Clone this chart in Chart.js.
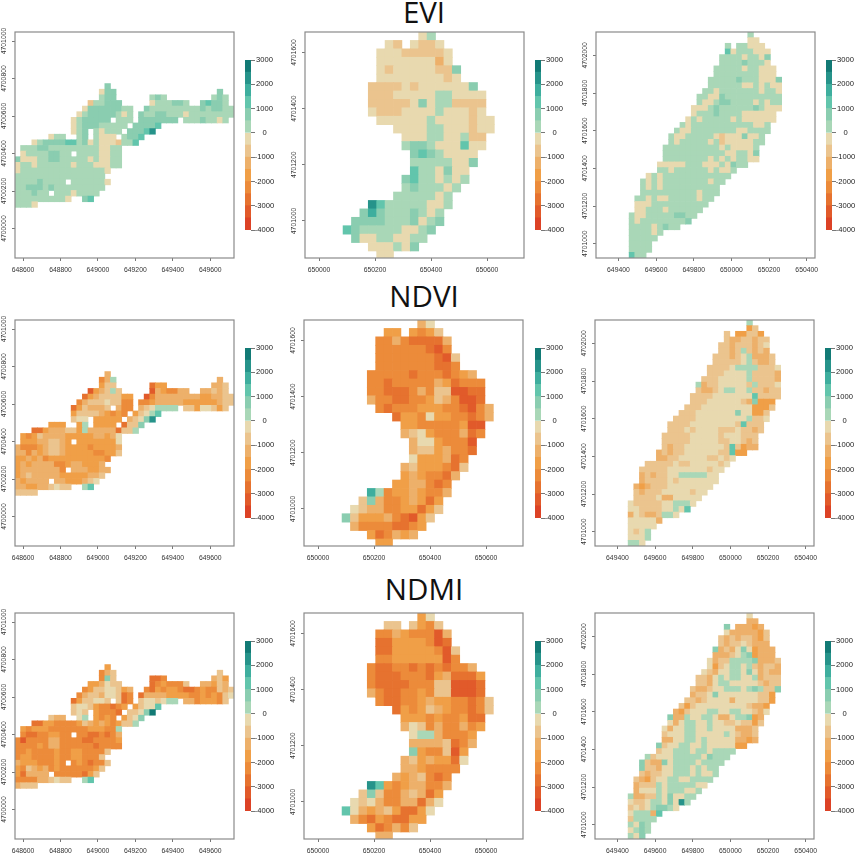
<!DOCTYPE html>
<html>
<head>
<meta charset="utf-8">
<script src="https://cdn.jsdelivr.net/npm/chart.js@4/dist/chart.umd.min.js"></script>
<style>
  html, body { margin: 0; padding: 0; background: #fff; }
  body { position: relative; width: 858px; height: 854px; overflow: hidden; }
  canvas { position: absolute; filter: blur(0.35px); }
  .title { position: absolute; left: 304px; width: 240px; text-align: center; font-family: "Open Sans", sans-serif; font-size: 29.5px; line-height: 30px; color: #111; }
</style>
</head>
<body>
<div class="title" style="top:-3px">EVI</div>
<div class="title" style="top:281px">NDVI</div>
<div class="title" style="top:574px">NDMI</div>
<script>
// colour class of each 30 m cell, one string per raster row, "startColumn:classes"
// class n covers -4000 + 500n .. -3500 + 500n, '.' is no data
const eviWest = [
  '16:9', '15:799 36:9', '15:899 24:898 35:898',
  '13:688999 24:7888998 33:9a998',
  '12:799999988 23:9888888888989988',
  '11:7899999878 22:98899888788888888',
  '10:7899999.888 22:9999999.88898878',
  '10:7899988888 21:9999a',
  '10:789.87888.999ac',
  '6:788 11:89.8777.899a',
  '3:789999aa8978777688a',
  '1:888998888888887788',
  '1:788889988.88887788',
  '0:9777889988888787788',
  '0:7887888888788877788',
  '0:78888888888888887',
  '0:8888888888888888',
  '0:888898888.8888887',
  '0:8899989888888888',
  '0:888988.88878888',
  '0:8888888887 12:9a',
  '0:8887'
];
const ndviWest = [
  '16:5', '15:358 36:5', '15:466 24:244 35:556',
  '13:145686 24:1543355 33:55656',
  '12:245666644 23:1355555555445566',
  '11:3566676633 22:33455555444444566',
  '10:2465556.533 22:5678888.66477646',
  '10:4666654343 21:4678a',
  '10:677.44444.5679c',
  '6:444 11:48.4444.2669',
  '3:2245556648555552668',
  '1:434655554444455457',
  '1:444556654.44444447',
  '0:5333456654444344445',
  '0:5535456654444433446',
  '0:44545344444444443',
  '0:4545555334554445',
  '0:455555553.5554455',
  '0:4565555544444556',
  '0:545555.55444567',
  '0:5544556766 12:8a',
  '0:6666'
];
const ndmiWest = [
  '16:4', '15:356 36:6', '15:396 24:223 35:564',
  '13:445766 24:2343336 33:55465',
  '12:346677645 23:3243443223433656',
  '11:3566577623 22:25555444433434367',
  '10:2466776.623 22:6776788.55344436',
  '10:6776433234 21:4677a',
  '10:676.43332.6679d',
  '6:655 11:78.4343.4679',
  '3:2244333346545434668',
  '1:434443333333444338',
  '1:322334433.33223235',
  '0:3133335533332233334',
  '0:3333435533333323333',
  '0:33433334334433336',
  '0:3443333433443336',
  '0:544433343.3432336',
  '0:4365453433333346',
  '0:425555.33333246',
  '0:3333556766 12:8a',
  '0:5666'
];
const eviMiddle = [
  '9:78', '5:76 8:7667', '4:777666667', '4:777777757', '4:7677777669', '4:7777777767',
  '3:6666767777779', '3:66677777887777', '3:66666797886666', '3:76667777877767',
  '4:77777787777677', '6:777788777677', '7:7778877866', '7:8998777a77', '8:9a987777',
  '8:88888779', '8:a887977', '7:9a887878', '7:8988878', '6:8888878', '3:ca88888778',
  '2:9b98889878', '1:99998889789', '0:a9888887789', '1:977887788', '3:777879', '4:77'
];
const ndviMiddle = [
  '9:57', '5:44 8:4346', '4:335322225', '4:333333213', '4:3333333216', '4:3333333223',
  '3:3333323332345', '3:33233333542333', '3:33222353661122', '3:53322334653112',
  '4:32333444332135', '6:244374433235', '7:4433333411', '7:5674333523', '8:57743331',
  '8:56645332', '8:7444523', '7:56444326', '7:4543325', '6:4455323', '3:b834454335',
  '2:6953345424', '1:76553344246', '0:96444532146', '1:533332234', '3:423545', '4:44'
];
const ndmiMiddle = [
  '9:47', '5:66 8:6436', '4:335433315', '4:224444312', '4:2244444316', '4:3344444413',
  '3:3223323232335', '3:32223332452224', '3:32222333661112', '3:53223343661112',
  '4:32233454433236', '6:243465433236', '7:4443433422', '7:5763533534', '8:78853334',
  '8:55556235', '8:9433614', '7:56454427', '7:5543333', '6:5456323', '3:ca43455335',
  '2:6963356524', '1:76753355257', '0:a7545642247', '1:532432244', '3:423536', '4:55'
];
const eviEast = [
  '21:8', '21:77', '17:8 19:88777', '17:a7888777', '16:888878879', '16:888898887',
  '15:88888788777', '15:88888888777', '14:8888898887779', '14:8888887787877',
  '13:88788888887887', '12:887798888888888', '12:877899888878788',
  '11:7778988888898777', '11:788898888777777', '10:7878888878777777',
  '9:8788888888888778', '8:87788888888778888', '7:87788888767779778',
  '7:87888887867777788', '6:88888888887877778', '6:88888888888778879',
  '6:88888888787878877', '5:7777788877787988', '5:88788888878778',
  '3:787888888888888', '2:878788888888788', '2:87878888888888', '2:88888888887888',
  '1:88787788888788', '1:7778888888888', '1:778887888888', '0:877888889988',
  '0:87888888889', '0:888878988', '0:888878', '0:88888', '0:8888', '0:8888', '0:a88'
];
const ndviEast = [
  '21:8', '21:46', '17:6 19:44664', '17:65566566', '16:665666567', '16:665686565',
  '15:66656785556', '15:66666786556', '14:6666788886667', '14:6667777866665',
  '13:66677777866665', '12:856677777686667', '12:655678877866566',
  '11:66667777777a6666', '11:666777777659444', '10:6667777777774446',
  '9:6667777777977446', '8:66667777777778667', '7:6666777777776a666',
  '7:66676777766676656', '6:66666777776777666', '6:66666777776677656',
  '6:656677777776a6455', '5:5656677777766a44', '5:55667777766767',
  '3:666667667777767', '2:666667777777677', '2:56566778888877', '2:56666767777777',
  '1:54566677777777', '1:6566677777677', '1:666675577777', '0:766666778887',
  '0:7766667787a', '0:576556887', '0:777775', '0:77777', '0:7678', '0:7778', '0:887'
];
const ndmiEast = [
  '21:7', '21:55', '17:9 19:55545', '17:75555546', '16:656566546', '16:656676555',
  '15:95657974555', '15:55567894555', '14:7566888895556', '14:7467887865665',
  '13:76577887975655', '12:665787887785666', '12:665788777776566',
  '11:6556778887898669', '11:566797777777664', '10:6656777757777664',
  '9:6467777777776554', '8:54677788778877657', '7:95587788755788945',
  '7:75788778776676646', '6:75778877877775556', '6:67778877777876556',
  '6:55778878777775545', '5:9677887787777744', '5:67788878878888',
  '3:867778888879888', '2:965597888878888', '2:96657788878788', '2:65667788878778',
  '1:65467788778888', '1:5666878888877', '1:577787888778', '0:855668797788',
  '0:766788797c8', '0:676789987', '0:78885a', '0:68888', '0:8798', '0:7898', '0:879'
];

const cellSize = 30;
const westXTicks = [648600, 648800, 649000, 649200, 649400, 649600];
const westYTicks = [4700000, 4700200, 4700400, 4700600, 4700800, 4701000];
const middleXTicks = [650000, 650200, 650400, 650600];
const middleYTicks = [4701000, 4701200, 4701400, 4701600];
const eastXTicks = [649400, 649600, 649800, 650000, 650200, 650400];
const eastYTicks = [4701000, 4701200, 4701400, 4701600, 4701800, 4702000];
const legendTicks = [3000, 2000, 1000, 0, -1000, -2000, -3000, -4000];
const classFloor = [-4000, -3500, -3000, -2500, -2000, -1500, -1000, -500, 0, 500, 1000, 1500, 2000, 2500];
const palette = ['#dc4226', '#e15a2a', '#e6722f', '#ec8b3a', '#f09f47', '#edb06a', '#ebc48e',
                 '#e8d9af', '#a9d7b7', '#8acdb0', '#62c5ac', '#3eae9e', '#26938a', '#127a75'];

const sites = {
  west: { xMin: 648557, xMax: 649727, yMin: 4699843, yMax: 4701048, x0: 648557, y0: 4700773, xTicks: westXTicks, yTicks: westYTicks },
  middle: { xMin: 649950, xMax: 650732, yMin: 4700868, yMax: 4701673, x0: 650086, y0: 4701673, xTicks: middleXTicks, yTicks: middleYTicks },
  east: { xMin: 649281, xMax: 650444, yMin: 4700924, yMax: 4702124, x0: 649457, y0: 4702124, xTicks: eastXTicks, yTicks: eastYTicks }
};

const panels = [
  { rows: eviWest, site: 'west', left: 15, top: 32, barLeft: 245, barTop: 60 },
  { rows: eviMiddle, site: 'middle', left: 305, top: 32, barLeft: 535, barTop: 60 },
  { rows: eviEast, site: 'east', left: 596, top: 32, barLeft: 826, barTop: 60 },
  { rows: ndviWest, site: 'west', left: 15, top: 320, barLeft: 245, barTop: 348 },
  { rows: ndviMiddle, site: 'middle', left: 304, top: 320, barLeft: 535, barTop: 348 },
  { rows: ndviEast, site: 'east', left: 595, top: 320, barLeft: 825, barTop: 348 },
  { rows: ndmiWest, site: 'west', left: 15, top: 613, barLeft: 245, barTop: 641 },
  { rows: ndmiMiddle, site: 'middle', left: 304, top: 613, barLeft: 535, barTop: 641 },
  { rows: ndmiEast, site: 'east', left: 595, top: 613, barLeft: 825, barTop: 641 }
];

function toPoints(rows, site) {
  const pts = [];
  rows.forEach(function(row, r) {
    row.split(' ').forEach(function(run) {
      const parts = run.split(':');
      Array.from(parts[1]).forEach(function(c, i) {
        if (c === '.') return;
        pts.push({
          x: site.x0 + (Number(parts[0]) + i + 0.5) * cellSize,
          y: site.y0 - (r + 0.5) * cellSize,
          v: classFloor[parseInt(c, 16)] + 250
        });
      });
    });
  });
  return pts;
}

function colourFor(v) {
  return palette[classFloor.findIndex(function(f) { return v >= f && v < f + 500; })];
}

function addCanvas(left, top, width, height) {
  const c = document.createElement('canvas');
  c.width = width;
  c.height = height;
  c.style.left = left + 'px';
  c.style.top = top + 'px';
  c.style.width = width + 'px';
  c.style.height = height + 'px';
  document.body.appendChild(c);
  return c;
}

function fixedTicks(list) {
  return function(scale) {
    scale.ticks = list.map(function(v) { return { value: v }; });
  };
}

// box round the plot and R style centred labels on the rotated y axis
const mapLook = {
  id: 'mapLook',
  beforeDraw(chart) {
    chart.scales.y.getLabelItems().forEach(function(item) { item.options.textAlign = 'center'; });
  },
  afterDraw(chart) {
    const a = chart.chartArea;
    chart.ctx.strokeStyle = '#8a8a8a';
    chart.ctx.lineWidth = 1.2;
    chart.ctx.strokeRect(a.left, a.top, a.right - a.left, a.bottom - a.top);
  }
};

// legend labels are centred on one line
const legendLook = {
  id: 'legendLook',
  beforeDraw(chart) {
    chart.scales.y.getLabelItems().forEach(function(item) {
      item.options.textAlign = 'center';
      item.options.translation[0] = chart.chartArea.right + 13.5;
    });
  }
};

function noOverflow(scale) {
  scale.paddingLeft = 0;
  scale.paddingRight = 0;
  scale.paddingTop = 0;
  scale.paddingBottom = 0;
}

const W = 219, H = 226, topRoom = 8;

panels.forEach(function(p) {
  const site = sites[p.site];
  const canvas = addCanvas(p.left - 15, p.top - topRoom, 15 + W + 4, topRoom + H + 20);
  new Chart(canvas.getContext('2d'), {
    type: 'scatter',
    data: {
      datasets: [{
        data: toPoints(p.rows, site),
        pointStyle: 'rect',
        borderWidth: 0,
        backgroundColor: function(ctx) { return colourFor(ctx.raw.v); },
        pointRadius: function(ctx) {
          const s = ctx.chart.scales.x;
          return (s.getPixelForValue(s.min + cellSize) - s.getPixelForValue(s.min) + 0.7) * Math.SQRT1_2;
        }
      }]
    },
    options: {
      responsive: false,
      animation: false,
      layout: { padding: { top: topRoom, right: 4, left: 0, bottom: 0 } },
      plugins: { legend: { display: false }, tooltip: { enabled: false } },
      scales: {
        x: {
          type: 'linear',
          min: site.xMin,
          max: site.xMax,
          afterBuildTicks: fixedTicks(site.xTicks),
          afterFit(scale) { scale.height = 20; noOverflow(scale); },
          grid: { drawOnChartArea: false, tickLength: 3, color: '#777', tickColor: '#777' },
          border: { display: false },
          ticks: {
            autoSkip: false, maxRotation: 0, padding: 5,
            color: '#333', font: { family: '"Liberation Sans"', size: 6.8 },
            callback: function(v) { return String(v); }
          }
        },
        y: {
          type: 'linear',
          min: site.yMin,
          max: site.yMax,
          afterBuildTicks: fixedTicks(site.yTicks),
          afterFit(scale) { scale.width = 15; noOverflow(scale); },
          grid: { drawOnChartArea: false, tickLength: 3, color: '#777', tickColor: '#777' },
          border: { display: false },
          ticks: {
            autoSkip: false, minRotation: 90, maxRotation: 90, padding: 8,
            color: '#333', font: { family: '"Liberation Sans"', size: 6.8 },
            callback: function(v) { return String(v); }
          }
        }
      }
    },
    plugins: [mapLook]
  });

  const barCanvas = addCanvas(p.barLeft, p.barTop - 6, 6 + 28, 170 + 12);
  new Chart(barCanvas.getContext('2d'), {
    type: 'bar',
    data: {
      labels: [''],
      datasets: classFloor.map(function(f, i) {
        return { data: [[f, f + 500]], backgroundColor: palette[i], grouped: false, barPercentage: 1, categoryPercentage: 1, borderWidth: 0 };
      })
    },
    options: {
      responsive: false,
      animation: false,
      layout: { padding: { top: 6, bottom: 6, left: 0, right: 0 } },
      plugins: { legend: { display: false }, tooltip: { enabled: false } },
      scales: {
        x: { display: false },
        y: {
          position: 'right',
          min: -4000,
          max: 3000,
          afterBuildTicks: fixedTicks(legendTicks),
          afterFit(scale) { scale.width = 28; noOverflow(scale); },
          grid: { drawOnChartArea: false, tickLength: 4, color: '#777', tickColor: '#777' },
          border: { display: false },
          ticks: {
            autoSkip: false, padding: 2, color: '#222',
            font: { family: '"Liberation Sans"', size: 7.6 },
            callback: function(v) { return String(v); }
          }
        }
      }
    },
    plugins: [legendLook]
  });
});
</script>
</body>
</html>
